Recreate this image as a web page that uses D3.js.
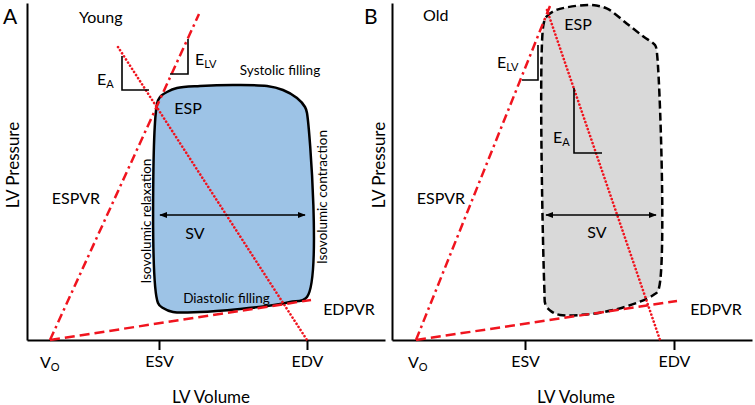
<!DOCTYPE html>
<html>
<head>
<meta charset="utf-8">
<script src="https://cdn.jsdelivr.net/npm/d3@7"></script>
<style>
  body { margin: 0; background: #fff; }
  text { font-family: Lato, "Open Sans", sans-serif; fill: #000; }
</style>
</head>
<body>
<script>
// ---- data (volume in mL-like units, pressure in mmHg-like units) ----
const panelLetters = ["A", "B"]
const panelTitles = ["Young", "Old"]
const volumeTickLabels = ["ESV", "EDV"]

// [V0, ESV, EDV]
const youngVolumes = [11.5, 66, 140]
const oldVolumes = [12, 66.5, 141]

// pressure-volume loops, [volume, pressure]
const youngLoop = [
    [65, 118], [66.5, 121.5], [70, 124], [75, 126], [86.5, 127], [103, 127.5], [120, 127],
    [128, 125], [135, 121], [139, 116.5], [140, 113.5],
    [140, 21.5], [131.5, 19], [120, 17], [106.5, 15.5], [86.5, 14], [73, 14], [68, 16], [65.5, 18.5]
]
const oldLoop = [
    [75.7, 157.5], [77.3, 161.7], [81.5, 164.7], [87.3, 166.3], [99, 167.5], [107.3, 165.8],
    [117.3, 158.3], [125.7, 151.7], [131.5, 147.5], [132.3, 145],
    [133.2, 25], [130.7, 22.5], [124, 19.2], [110.7, 15], [97.3, 12.8], [84, 12.5],
    [79.8, 14.2], [76.8, 17.5], [76.2, 25]
]

// end-systolic / end-diastolic pressure-volume relations and arterial elastance lines
const youngESPVR = [[11.5, 0], [86, 163]]
const youngEDPVR = [[11.5, 0], [142, 20]]
const youngEa = [[45.5, 146.5], [140, 0]]
const oldESPVR = [[12, 0], [79, 167]]
const oldEDPVR = [[12, 0], [142.5, 19.5]]
const oldEa = [[77.5, 165], [134, 0]]

// slope triangles
const youngEaTriangle = [[47.5, 142], [47.5, 125], [61, 125]]
const youngElvTriangle = [[71.5, 133], [80.5, 133], [80.5, 150.5]]
const oldEaTriangle = [[91, 126], [91, 93.5], [105, 93.5]]
const oldElvTriangle = [[65, 130], [73, 130], [73, 147.5]]

// stroke volume arrows
const youngSV = [[66.5, 62.5], [139, 62.5]]
const oldSV = [[77, 62.5], [132, 62.5]]

const width = 755
const height = 405
const red = "#f0141e"

const svg = d3.select("body").append("svg")
    .attr("width", width)
    .attr("height", height)
    .attr("viewBox", [0, 0, width, height])

svg.append("defs").append("marker")
    .attr("id", "arrow")
    .attr("viewBox", "0 0 10 10")
    .attr("refX", 9).attr("refY", 5)
    .attr("markerWidth", 5).attr("markerHeight", 5)
    .attr("orient", "auto-start-reverse")
    .append("path")
    .attr("d", "M0,1 L10,5 L0,9 z")
    .attr("fill", "#000")

function drawPanel(cfg) {
    const x = d3.scaleLinear().domain([0, cfg.vMax]).range([cfg.left, cfg.left + 2 * cfg.vMax])
    const y = d3.scaleLinear().domain([0, 168.5]).range([340, 3])
    const line = d3.line().x(d => x(d[0])).y(d => y(d[1]))
    const g = svg.append("g")

    // loop
    g.append("path")
        .datum(cfg.loop)
        .attr("d", line.curve(d3.curveCatmullRomClosed.alpha(0.5)))
        .attr("fill", cfg.fill)
        .attr("stroke", "#000")
        .attr("stroke-width", 2.5)
        .attr("stroke-dasharray", cfg.dashed ? "8,4" : null)
        .attr("stroke-linejoin", "round")
    line.curve(d3.curveLinear)

    // axes
    g.append("g")
        .attr("transform", `translate(0,${y(0)})`)
        .call(d3.axisBottom(x).tickValues(cfg.volumes.slice(1)).tickSize(10).tickSizeOuter(0)
            .tickFormat((d, i) => volumeTickLabels[i]))
        .call(a => a.selectAll("path, line").attr("stroke", "#000").attr("stroke-width", 2))
        .call(a => a.selectAll("text").attr("font-size", 16).attr("y", 16).attr("font-family", null))
    g.append("g")
        .attr("transform", `translate(${x(0)},0)`)
        .call(d3.axisLeft(y).tickValues([]).tickSizeOuter(0))
        .call(a => a.select(".domain").attr("stroke", "#000").attr("stroke-width", 2))

    // relation lines
    g.append("path").datum(cfg.espvr).attr("d", line)
        .attr("stroke", red).attr("stroke-width", 2.5).attr("fill", "none")
        .attr("stroke-dasharray", "9,4,2.5,4")
    g.append("path").datum(cfg.edpvr).attr("d", line)
        .attr("stroke", red).attr("stroke-width", 2.5).attr("fill", "none")
        .attr("stroke-dasharray", "10,5")
    g.append("path").datum(cfg.ea).attr("d", line)
        .attr("stroke", red).attr("stroke-width", 2.6).attr("fill", "none")
        .attr("stroke-linecap", "round")
        .attr("stroke-dasharray", "0.1,3.6")

    // slope triangles
    for (const t of [cfg.eaTri, cfg.elvTri]) {
        g.append("path").datum(t).attr("d", line)
            .attr("stroke", "#000").attr("stroke-width", 1.6).attr("fill", "none")
    }

    // SV arrow
    g.append("path").datum(cfg.sv).attr("d", line)
        .attr("stroke", "#000").attr("stroke-width", 1.6).attr("fill", "none")
        .attr("marker-start", "url(#arrow)").attr("marker-end", "url(#arrow)")

    // labels
    const label = (v, p, txt, size, anchor = "middle", rotate = false) => {
        const t = g.append("text")
            .attr("x", x(v)).attr("y", y(p))
            .attr("font-size", size)
            .attr("text-anchor", anchor)
            .attr("dominant-baseline", "central")
            .text(txt)
        if (rotate) t.attr("transform", `rotate(-90,${x(v)},${y(p)})`)
        return t
    }
    const subLabel = (v, p, main, sub) => {
        const t = g.append("text")
            .attr("x", x(v)).attr("y", y(p))
            .attr("font-size", 16)
            .attr("dominant-baseline", "central")
        t.append("tspan").text(main)
        t.append("tspan").attr("font-size", 11).attr("dy", 5).text(sub)
    }

    label(cfg.letterPos[0], cfg.letterPos[1], cfg.letter, 21, "start")
    label(cfg.titlePos[0], cfg.titlePos[1], cfg.title, 16, "start")
    label(92, -28, "LV Volume", 17)
    label(cfg.pressPos[0], cfg.pressPos[1], "LV Pressure", 17, "middle", true)
    label(24.5, 71.5, "ESPVR", 16)
    label(cfg.edpvrPos[0], cfg.edpvrPos[1], "EDPVR", 16)
    label(cfg.espPos[0], cfg.espPos[1], "ESP", 16)
    label(cfg.svPos[0], cfg.svPos[1], "SV", 16)
    subLabel(cfg.v0Pos[0], cfg.v0Pos[1], "V", "O")
    subLabel(cfg.eaPos[0], cfg.eaPos[1], "E", "A")
    subLabel(cfg.elvPos[0], cfg.elvPos[1], "E", "LV")
    for (const n of cfg.notes) label(n[0], n[1], n[2], 13.5, "middle", n[3])
}

drawPanel({
    left: 27, vMax: 179, letter: panelLetters[0], title: panelTitles[0],
    volumes: youngVolumes, loop: youngLoop, fill: "#9dc3e6", dashed: false,
    espvr: youngESPVR, edpvr: youngEDPVR, ea: youngEa,
    eaTri: youngEaTriangle, elvTri: youngElvTriangle, sv: youngSV,
    letterPos: [-12, 162.5], titlePos: [26, 162], pressPos: [-7.5, 87.5],
    edpvrPos: [161, 16], espPos: [80.5, 116.5], svPos: [84, 54],
    v0Pos: [6.5, -10.5], eaPos: [35, 131], elvPos: [84, 141],
    notes: [
        [126.5, 135, "Systolic filling", false],
        [59.5, 59.5, "Isovolumic relaxation", true],
        [147.5, 71.5, "Isovolumic contraction", true],
        [99.75, 21, "Diastolic filling", false]
    ]
})

drawPanel({
    left: 392, vMax: 180, letter: panelLetters[1], title: panelTitles[1],
    volumes: oldVolumes, loop: oldLoop, fill: "#d9d9d9", dashed: true,
    espvr: oldESPVR, edpvr: oldEDPVR, ea: oldEa,
    eaTri: oldEaTriangle, elvTri: oldElvTriangle, sv: oldSV,
    letterPos: [-14, 162.5], titlePos: [15.5, 163], pressPos: [-7, 87.5],
    edpvrPos: [162, 16], espPos: [93, 158.5], svPos: [102.5, 54.5],
    v0Pos: [8, -10.5], eaPos: [80.5, 102], elvPos: [52.5, 139.5],
    notes: []
})
</script>
</body>
</html>
